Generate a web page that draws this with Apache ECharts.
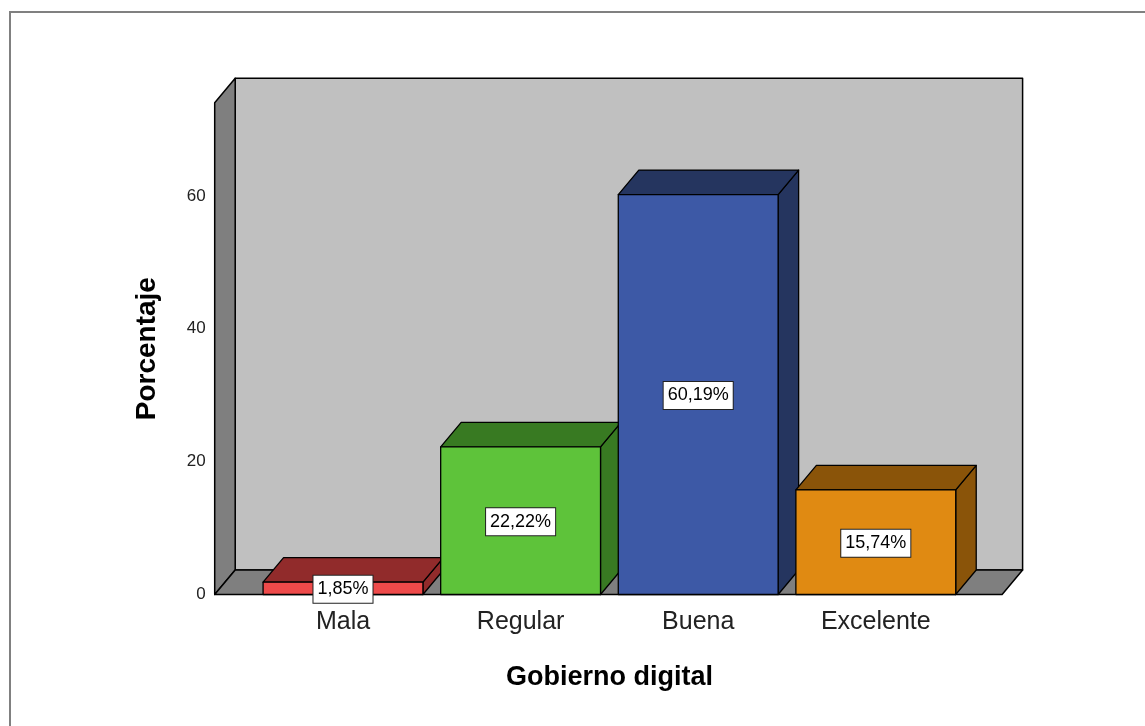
<!DOCTYPE html>
<html>
<head>
<meta charset="utf-8">
<script src="https://cdn.jsdelivr.net/npm/echarts@6/dist/echarts.min.js"></script>
<style>
html,body{margin:0;padding:0;background:#fff;}
#chart{width:1145px;height:726px;}
</style>
</head>
<body>
<div id="chart"></div>
<script>
// ---- data ----
var categories = ['Mala', 'Regular', 'Buena', 'Excelente'];
var percentages = [1.85, 22.22, 60.19, 15.74];
var yAxisMin = 0;
var yAxisMax = 74;
var yAxisInterval = 20;
var xTitle = 'Gobierno digital';
var yTitle = 'Porcentaje';

// ---- styles ----
var frontColors = ['#EE4A4A', '#5EC33A', '#3D59A6', '#E08A12'];
var darkColors  = ['#912B2B', '#387A22', '#25355F', '#8A5409'];
var FONT = '"Liberation Sans", Arial, sans-serif';
var DX = 20.5, DY = -24.5;      // 3D depth offset
var EXT_L = 39.5, EXT_R = 37.5;  // floor extends past the category bands

var chart = echarts.init(document.getElementById('chart'), null, {renderer: 'canvas'});

function wallsRender(params, api) {
  var cs = params.coordSys;
  var L = cs.x - EXT_L, R = cs.x + cs.width + EXT_R;
  var T = cs.y, B = cs.y + cs.height;
  var line = {stroke: '#000', lineWidth: 1.5, lineJoin: 'round'};
  return {
    type: 'group',
    children: [
      {type: 'polygon', shape: {points: [[L + DX, T + DY], [R + DX, T + DY], [R + DX, B + DY], [L + DX, B + DY]]},
        style: Object.assign({fill: '#C0C0C0'}, line)},
      {type: 'polygon', shape: {points: [[L, B], [L, T], [L + DX, T + DY], [L + DX, B + DY]]},
        style: Object.assign({fill: '#7F7F7F'}, line)},
      {type: 'polygon', shape: {points: [[L, B], [R, B], [R + DX, B + DY], [L + DX, B + DY]]},
        style: Object.assign({fill: '#7F7F7F'}, line)}
    ]
  };
}

function barRender(params, api) {
  var idx = api.value(0);
  var val = api.value(1);
  var base = api.coord([idx, 0]);
  var top = api.coord([idx, val]);
  var bw = api.size([1, 0])[0] * 0.9;
  var x0 = base[0] - bw / 2, x1 = x0 + bw;
  var yt = top[1], yb = base[1];
  var line = {stroke: '#000', lineWidth: 1.3, lineJoin: 'round'};
  return {
    type: 'group',
    children: [
      {type: 'polygon', shape: {points: [[x1, yt], [x1, yb], [x1 + DX, yb + DY], [x1 + DX, yt + DY]]},
        style: Object.assign({fill: darkColors[idx]}, line)},
      {type: 'polygon', shape: {points: [[x0, yt], [x1, yt], [x1 + DX, yt + DY], [x0 + DX, yt + DY]]},
        style: Object.assign({fill: darkColors[idx]}, line)},
      {type: 'rect', shape: {x: x0, y: yt, width: bw, height: yb - yt},
        style: Object.assign({fill: frontColors[idx]}, line)}
    ]
  };
}

function labelRender(params, api) {
  var idx = api.value(0);
  var val = api.value(1);
  var base = api.coord([idx, 0]);
  var top = api.coord([idx, val]);
  return {
    type: 'text',
    x: base[0],
    y: (base[1] + top[1]) / 2 + 1,
    style: {
      text: val.toFixed(2).replace('.', ',') + '%',
      fill: '#000',
      font: '18px ' + FONT,
      align: 'center',
      verticalAlign: 'middle',
      backgroundColor: '#fff',
      borderColor: '#222',
      borderWidth: 1,
      padding: [5, 4, 4, 4]
    }
  };
}

var barData = categories.map(function (c, i) { return [i, percentages[i]]; });

chart.setOption({
  animation: false,
  backgroundColor: '#fff',
  graphic: [{
    type: 'rect', z: -10, silent: true,
    shape: {x: 10, y: 12, width: 1200, height: 800},
    style: {fill: 'none', stroke: '#808080', lineWidth: 2}
  }],
  grid: {left: 254.2, right: 180.4, top: 102.8, bottom: 131.5, containLabel: false},
  xAxis: {
    type: 'category',
    data: categories,
    axisLine: {show: false},
    axisTick: {show: false},
    splitLine: {show: false},
    axisLabel: {fontSize: 25, fontFamily: FONT, color: '#222', margin: 15, lineHeight: 26},
    name: xTitle,
    nameLocation: 'middle',
    nameGap: 70,
    nameTextStyle: {fontSize: 27, fontWeight: 'bold', fontFamily: FONT, color: '#000', lineHeight: 27}
  },
  yAxis: {
    type: 'value',
    min: yAxisMin,
    max: yAxisMax,
    interval: yAxisInterval,
    offset: 38.5,
    axisLine: {show: false},
    axisTick: {show: false},
    splitLine: {show: false},
    axisLabel: {fontSize: 17, fontFamily: FONT, color: '#222', margin: 10,
      formatter: function (v) { return v % yAxisInterval === 0 ? String(v) : ''; }},
    name: yTitle,
    nameLocation: 'middle',
    nameGap: 54,
    nameTextStyle: {fontSize: 28, fontWeight: 'bold', fontFamily: FONT, color: '#000', lineHeight: 28}
  },
  series: [
    {type: 'custom', name: 'walls', renderItem: wallsRender, data: [[0, 0]], clip: false, z: 1, silent: true},
    {type: 'custom', name: 'bars', renderItem: barRender, data: barData, clip: false, z: 2},
    {type: 'custom', name: 'labels', renderItem: labelRender, data: barData, clip: false, z: 3}
  ]
});
</script>
</body>
</html>
